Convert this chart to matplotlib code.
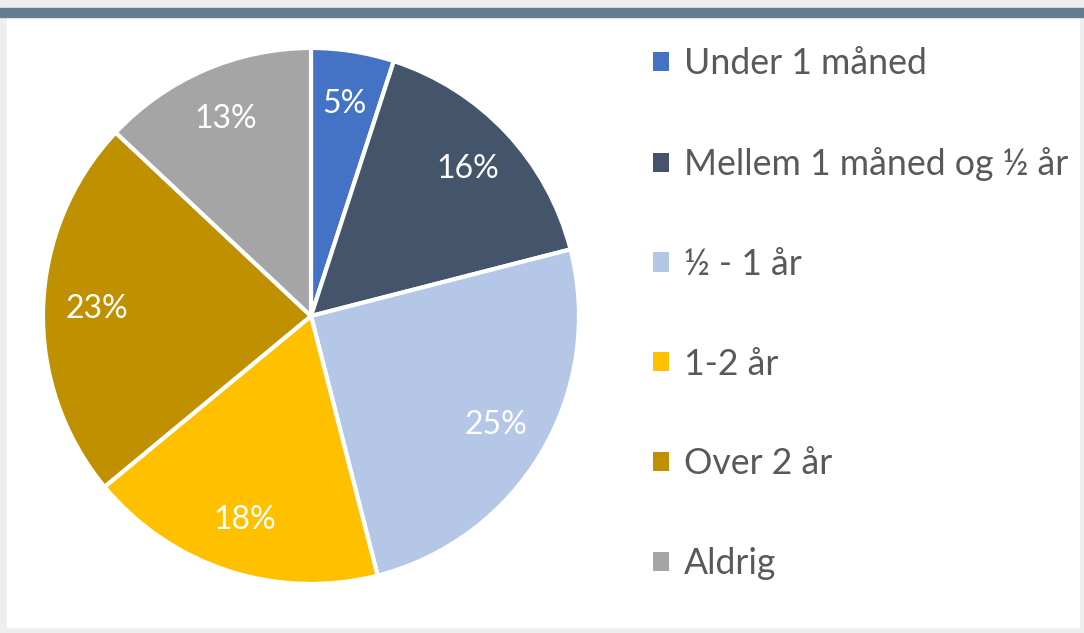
import matplotlib.pyplot as plt
from matplotlib.patches import Rectangle

# data
labels = ['Under 1 måned', 'Mellem 1 måned og ½ år', '½ - 1 år', '1-2 år', 'Over 2 år', 'Aldrig']
shares = [5, 16, 25, 18, 23, 13]
colors = ['#4472C4', '#44546A', '#B4C7E7', '#FFC000', '#BF9000', '#A5A5A5']

W, H = 1084, 633
plt.rcParams['font.family'] = ['Lato', 'DejaVu Sans']
fig = plt.figure(figsize=(W / 100, H / 100), dpi=100)

# background frame: grey margin, white chart area, dark band on top
fig.patches.append(Rectangle((0, 0), 1, 1, transform=fig.transFigure, color='#eeeeee', zorder=-3))
fig.patches.append(Rectangle((7 / W, 6 / H), 1072 / W, 610 / H, transform=fig.transFigure,
                             color='white', zorder=-2))
fig.patches.append(Rectangle((0, (H - 17) / H), 1, 9 / H, transform=fig.transFigure,
                             color='#657c91', zorder=-1))

# pie
ax = fig.add_axes([43 / W, (H - 584) / H, 536 / W, 536 / H])
wedges, texts, autotexts = ax.pie(shares, colors=colors, startangle=90, counterclock=False,
                                  radius=1, autopct='%d%%', pctdistance=0.8,
                                  wedgeprops=dict(edgecolor='white', linewidth=3),
                                  textprops=dict(color='white', fontsize=23))
ax.set_xlim(-1.0, 1.0)
ax.set_ylim(-1.0, 1.0)
ax.set_aspect('equal')
ax.axis('off')

# legend
leg = fig.legend(wedges, labels, loc='upper left', bbox_to_anchor=(639 / W, (H - 33) / H),
                 frameon=False, fontsize=25.7, handlelength=0.45, handleheight=0.45,
                 handletextpad=0.4, labelspacing=1.87, borderaxespad=0)
for t in leg.get_texts():
    t.set_color('#595959')
for h in leg.legend_handles:
    h.set_linewidth(0)

plt.savefig('out.png', dpi=100)
